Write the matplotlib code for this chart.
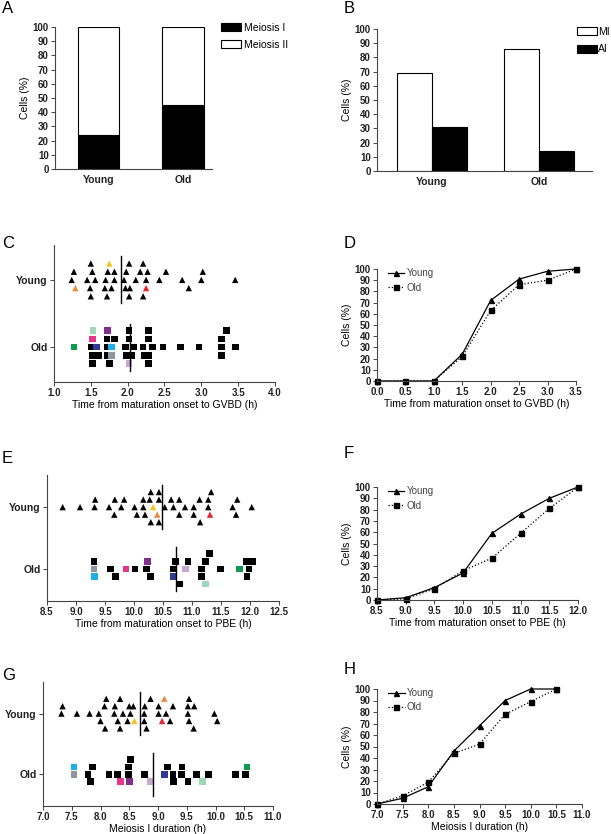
import matplotlib.pyplot as plt

plt.rcParams['font.family'] = ['Liberation Sans', 'DejaVu Sans']

W, H = 611, 834

# ---- data ----
groups = ['Young', 'Old']
a_meiosis1 = [24, 45]
a_meiosis2 = [76, 55]
b_mi = [69, 86]
b_ai = [31, 14]

# scatter panels: time (h), stack row, tracked-cell tag ('' = black)
c_young_t = [1.50, 1.75, 2.02, 2.21,
             1.27, 1.52, 1.73, 1.82, 1.98, 2.17, 2.27, 2.52, 3.02,
             1.24, 1.45, 1.56, 1.70, 1.82, 1.95, 2.11, 2.25, 2.43, 2.74, 3.00, 3.46,
             1.29, 1.49, 1.69, 1.78, 1.97, 2.03, 2.25, 2.83,
             1.50, 1.72, 2.02, 2.21]
c_young_row = [2]*4 + [1]*9 + [0]*12 + [-1]*8 + [-2]*4
c_young_tag = ['', 'yellow', '', ''] + ['']*9 + ['']*12 + \
              ['orange', '', '', '', '', '', 'red', ''] + ['']*4
c_young_mean = 1.91

c_old_t = [1.53, 1.73, 2.02, 2.28, 3.34,
           1.52, 1.72, 1.82, 2.02, 2.28, 3.27,
           1.27, 1.50, 1.58, 1.73, 1.78, 1.97, 2.08, 2.21, 2.34, 2.48, 2.72, 2.97, 3.27, 3.46,
           1.52, 1.60, 1.72, 1.78, 1.98, 2.05, 2.22, 2.29, 3.27,
           1.52, 1.75, 2.02, 2.28]
c_old_row = [2]*5 + [1]*6 + [0]*14 + [-1]*9 + [-2]*4
c_old_tag = ['mint', 'purple', '', '', ''] + ['magenta'] + ['']*5 + \
            ['green', '', 'navy', '', 'cyan'] + ['']*9 + \
            ['', '', '', 'grey'] + ['']*5 + ['', '', 'lilac', '']
c_old_mean = 2.03

e_young_t = [10.29, 10.43, 11.33,
             9.33, 9.67, 9.83, 10.16, 10.27, 10.43, 10.64, 10.78, 11.13, 11.28, 11.78,
             8.77, 9.07, 9.32, 9.57, 9.78, 10.01, 10.16, 10.33, 10.53, 10.68, 10.88, 11.03, 11.28, 11.70, 12.03,
             9.66, 10.05, 10.19, 10.40, 10.78, 11.03, 11.31, 11.76,
             10.29, 10.43, 11.14]
e_young_row = [2]*3 + [1]*11 + [0]*15 + [-1]*8 + [-2]*3
e_young_tag = ['']*3 + ['']*11 + ['']*7 + ['yellow'] + ['']*7 + \
              ['', '', '', 'orange', '', '', 'red', ''] + ['']*3
e_young_mean = 10.48

e_old_t = [11.30,
           9.31, 10.23, 10.71, 10.93, 11.23, 11.94, 12.05,
           9.31, 9.60, 9.86, 10.02, 10.21, 10.68, 10.89, 11.16, 11.49, 11.82, 11.98,
           9.32, 9.68, 10.29, 10.68, 11.16, 11.95,
           10.79, 11.23]
e_old_row = [2] + [1]*7 + [0]*11 + [-1]*6 + [-2]*2
e_old_tag = [''] + ['', 'purple', '', '', '', '', ''] + \
            ['grey', '', 'magenta', '', '', '', 'lilac', '', '', 'green', ''] + \
            ['cyan', '', '', 'navy', '', ''] + ['', 'mint']
e_old_mean = 10.73

g_young_t = [8.10, 8.34, 8.87, 9.11, 9.54,
             7.34, 8.07, 8.25, 8.50, 8.57, 8.77, 9.01, 9.26, 9.52, 9.63,
             7.32, 7.59, 7.81, 7.97, 8.24, 8.39, 8.52, 8.76, 9.01, 9.14, 9.52, 9.98,
             8.00, 8.30, 8.47, 8.59, 8.76, 9.07, 9.21, 9.54, 10.03,
             8.08, 8.34, 8.80, 9.62]
g_young_row = [2]*5 + [1]*10 + [0]*12 + [-1]*9 + [-2]*4
g_young_tag = ['', '', '', 'orange', ''] + ['']*10 + ['']*12 + \
              ['', '', '', 'yellow', '', 'red', '', '', ''] + ['']*4
g_young_mean = 8.68

g_old_t = [8.52,
           7.54, 7.86, 8.49, 9.17, 9.42, 10.55,
           7.54, 7.78, 8.15, 8.30, 8.49, 8.76, 9.11, 9.26, 9.41, 9.67, 9.88, 10.35, 10.52,
           7.83, 8.35, 8.51, 8.87, 9.27, 9.52, 9.77]
g_old_row = [2] + [1]*6 + [0]*13 + [-1]*7
g_old_tag = [''] + ['cyan', '', '', '', '', 'green'] + \
            ['grey', '', '', '', '', '', 'navy', '', '', '', '', '', ''] + \
            ['', 'magenta', 'purple', 'lilac', '', '', 'mint']
g_old_mean = 8.91

# cumulative curves
d_x = [0.0, 0.5, 1.0, 1.5, 2.0, 2.5, 3.0, 3.5]
d_young = [0, 0, 0, 24, 72, 91, 98, 100]
d_old = [0, 0, 0, 22, 63, 86, 90, 100]
f_x = [8.5, 9.0, 9.5, 10.0, 10.5, 11.0, 11.5, 12.0]
f_young = [0, 2, 11, 24, 59, 76, 90, 100]
f_old = [0, 1, 10, 26, 37, 59, 81, 100]
h_x = [7.0, 7.5, 8.0, 8.5, 9.0, 9.5, 10.0, 10.5]
h_young = [0, 5, 15, 46, 68, 90, 100, 100]
h_old = [0, 7, 19, 44, 52, 78, 89, 100]

tag_colors = {'': 'black', 'orange': '#ec8a3c', 'yellow': '#f6c324', 'red': '#e3262d',
              'mint': '#9fd6b4', 'purple': '#7f2f8c', 'magenta': '#e5368b',
              'navy': '#2f3a94', 'cyan': '#1bb1e7', 'green': '#0b9c4c',
              'grey': '#8e979e', 'lilac': '#c8a7d2'}

# ---- figure ----
fig = plt.figure(figsize=(W/100, H/100), dpi=100)
axc = '#444444'


def box(l, t, r, b):
    return [l/W, 1 - b/H, (r - l)/W, (b - t)/H]


def style(ax):
    for s in ['top', 'right']:
        ax.spines[s].set_visible(False)
    for s in ['left', 'bottom']:
        ax.spines[s].set_color(axc)
        ax.spines[s].set_linewidth(0.8)
    ax.tick_params(length=3, width=0.7, color=axc, pad=1.5, labelcolor='#222222')
    for lab in ax.get_xticklabels() + ax.get_yticklabels():
        lab.set_fontsize(7)
        lab.set_fontweight('bold')


def letter(x, y, s):
    fig.text(x/W, 1 - y/H, s, fontsize=12, va='top', ha='left')


# A
ax = fig.add_axes(box(55, 27, 212, 169))
ax.bar([0, 1], a_meiosis1, width=0.49, color='black', edgecolor='black', lw=0.8, label='Meiosis I')
ax.bar([0, 1], a_meiosis2, bottom=a_meiosis1, width=0.49, color='white', edgecolor='black', lw=0.8,
       label='Meiosis II')
ax.set_xlim(-0.515, 1.343)
ax.set_ylim(0, 100)
ax.set_yticks(range(0, 101, 10))
ax.set_xticks([0, 1])
ax.set_xticklabels(groups)
style(ax)
ax.tick_params(axis='x', length=0, pad=4, labelsize=7.5)
ax.set_ylabel('Cells (%)', fontsize=7.5, labelpad=2)
ax.legend(loc='upper left', bbox_to_anchor=(221/W, 1 - 23/H), bbox_transform=fig.transFigure,
          frameon=False, fontsize=7.5, handlelength=1.9, handleheight=0.8, handletextpad=0.3,
          labelspacing=0.65, borderpad=0, borderaxespad=0)
letter(2, 1, 'A')

# B
ax = fig.add_axes(box(377, 29, 592, 171))
ax.bar([-0.165, 0.835], b_mi, width=0.33, color='white', edgecolor='black', lw=0.8, label='MI')
ax.bar([0.165, 1.165], b_ai, width=0.33, color='black', edgecolor='black', lw=0.8, label='AI')
ax.set_xlim(-0.514, 1.495)
ax.set_ylim(0, 100)
ax.set_yticks(range(0, 101, 10))
ax.set_xticks([0, 1])
ax.set_xticklabels(groups)
style(ax)
ax.tick_params(axis='x', length=0, pad=4, labelsize=7.5)
ax.set_ylabel('Cells (%)', fontsize=7.5, labelpad=2)
ax.legend(loc='upper left', bbox_to_anchor=(577/W, 1 - 27/H), bbox_transform=fig.transFigure,
          frameon=False, fontsize=7.5, handlelength=1.9, handleheight=0.8, handletextpad=0.15,
          labelspacing=0.7, borderpad=0, borderaxespad=0)
letter(344, 1, 'B')


def swarm(pos, xlim, xticks, xlabel, young, old, ymean, omean):
    ax = fig.add_axes(box(*pos))
    for (t, row, tag), center, mk, s, mean in [(young, 2, '^', 21, ymean), (old, 1, 's', 23, omean)]:
        ys = [center + r*0.122 for r in row]
        ax.scatter(t, ys, marker=mk, s=s, c=[tag_colors[k] for k in tag], linewidths=0, zorder=3)
        ax.plot([mean, mean], [center - 0.35, center + 0.35], color='black', lw=1, zorder=4)
    ax.set_xlim(*xlim)
    ax.set_ylim(0.48, 2.52)
    ax.set_xticks(xticks)
    ax.set_xticklabels(['%.1f' % v for v in xticks])
    ax.set_yticks([1, 2])
    ax.set_yticklabels(['Old', 'Young'])
    style(ax)
    ax.tick_params(axis='y', labelsize=7.5)
    ax.set_xlabel(xlabel, fontsize=7.5, labelpad=1.5)
    return ax


def curves(pos, x, young, old, xlim, xticks, xlabel):
    ax = fig.add_axes(box(*pos))
    ax.plot(x, young, '-^', color='black', lw=0.9, ms=3.6, label='Young', clip_on=False)
    ax.plot(x, old, ':s', color='black', lw=0.9, ms=3.6, label='Old', clip_on=False)
    ax.set_xlim(*xlim)
    ax.set_ylim(0, 100)
    ax.set_yticks(range(0, 101, 10))
    ax.set_xticks(xticks)
    ax.set_xticklabels(['%.1f' % v for v in xticks])
    style(ax)
    ax.set_ylabel('Cells (%)', fontsize=7.5, labelpad=2)
    ax.set_xlabel(xlabel, fontsize=7.5, labelpad=1.5)
    ax.legend(loc='upper left', bbox_to_anchor=(0.03, 1.05), frameon=False, fontsize=7,
              handlelength=1.7, handletextpad=0.25, labelspacing=0.45, borderpad=0,
              labelcolor='#444444')
    return ax


swarm((54, 245, 275, 382), (1.0, 4.0), [1.0, 1.5, 2.0, 2.5, 3.0, 3.5, 4.0],
      'Time from maturation onset to GVBD (h)',
      (c_young_t, c_young_row, c_young_tag), (c_old_t, c_old_row, c_old_tag),
      c_young_mean, c_old_mean)
letter(2, 236, 'C')
curves((377, 269, 576, 381), d_x, d_young, d_old, (0, 3.5),
       [0.0, 0.5, 1.0, 1.5, 2.0, 2.5, 3.0, 3.5], 'Time from maturation onset to GVBD (h)')
letter(344, 236, 'D')

swarm((47, 475, 279, 601), (8.5, 12.5), [8.5, 9.0, 9.5, 10.0, 10.5, 11.0, 11.5, 12.0, 12.5],
      'Time from maturation onset to PBE (h)',
      (e_young_t, e_young_row, e_young_tag), (e_old_t, e_old_row, e_old_tag),
      e_young_mean, e_old_mean)
letter(2, 451, 'E')
curves((377, 487, 578, 600), f_x, f_young, f_old, (8.5, 12.0),
       [8.5, 9.0, 9.5, 10.0, 10.5, 11.0, 11.5, 12.0], 'Time from maturation onset to PBE (h)')
letter(344, 446, 'F')

swarm((43, 682, 273, 806), (7.0, 11.0), [7.0, 7.5, 8.0, 8.5, 9.0, 9.5, 10.0, 10.5, 11.0],
      'Meiosis I duration (h)',
      (g_young_t, g_young_row, g_young_tag), (g_old_t, g_old_row, g_old_tag),
      g_young_mean, g_old_mean)
letter(2, 668, 'G')
curves((377, 689, 582, 804), h_x, h_young, h_old, (7.0, 11.0),
       [7.0, 7.5, 8.0, 8.5, 9.0, 9.5, 10.0, 10.5, 11.0], 'Meiosis I duration (h)')
letter(344, 662, 'H')

fig.savefig('out.png', dpi=100)
